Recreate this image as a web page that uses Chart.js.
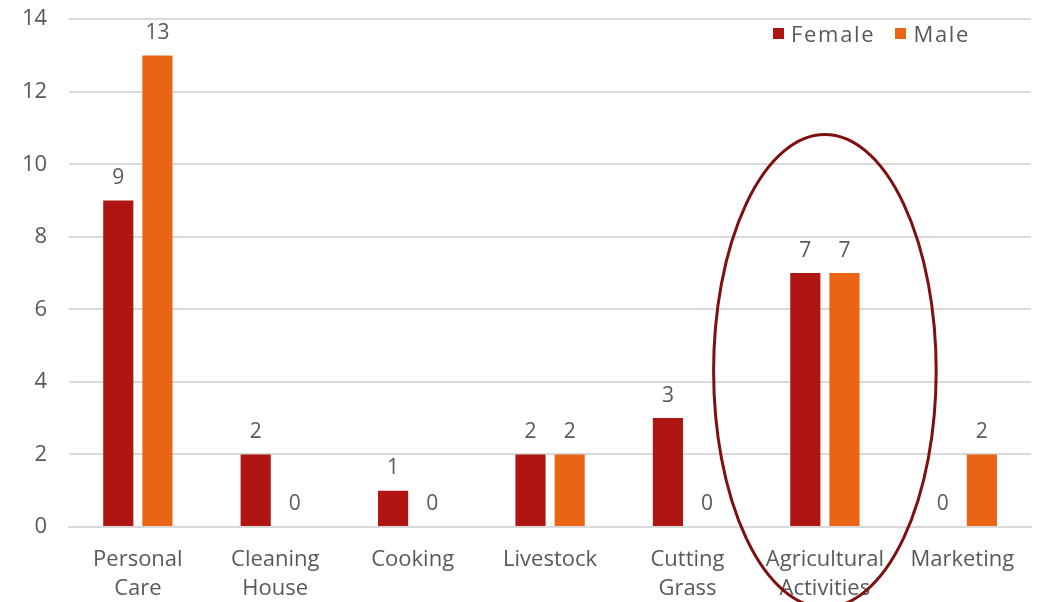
<!DOCTYPE html>
<html>
<head>
<meta charset="utf-8">
<script src="https://cdn.jsdelivr.net/npm/chart.js@4"></script>
<style>
    html, body { margin: 0; padding: 0; background: #fff; }
    #wrap { position: relative; width: 1041px; height: 602px; overflow: hidden; }
    #chart { position: absolute; left: 0; top: -16px; }
    #legend {
        position: absolute; left: 773px; top: 18px;
        font-family: 'Open Sans', sans-serif; font-size: 22px; color: #595959;
        letter-spacing: 1.7px;
        display: flex; align-items: center;
    }
    #legend span.box { display: inline-block; width: 11px; height: 11px; margin-right: 7px; }
    #legend span.item { display: flex; align-items: center; margin-right: 20px; }
</style>
</head>
<body>
<div id="wrap">
    <canvas id="chart" width="1041" height="629"></canvas>
    <div id="legend"></div>
</div>
<script>
// Chart data
const categories = [['Personal', 'Care'], ['Cleaning', 'House'], 'Cooking', 'Livestock', ['Cutting', 'Grass'], ['Agricultural', 'Activities'], 'Marketing'];
const female = [9, 2, 1, 2, 3, 7, 0];
const male = [13, 0, 0, 2, 0, 7, 2];
const yTicks = [0, 2, 4, 6, 8, 10, 12, 14];

const FEMALE_COLOR = '#AF1513';
const MALE_COLOR = '#E96414';
const TEXT_COLOR = '#595959';
const FONT = "'Open Sans', sans-serif";

// Legend (sits inside the plot area, as in the original)
const legendEl = document.getElementById('legend');
[['Female', FEMALE_COLOR], ['Male', MALE_COLOR]].forEach(([name, color]) => {
    const item = document.createElement('span');
    item.className = 'item';
    item.innerHTML = '<span class="box" style="background:' + color + '"></span>' + name;
    legendEl.appendChild(item);
});

// Value labels above bars
const valueLabels = {
    id: 'valueLabels',
    afterDatasetsDraw(chart) {
        const ctx = chart.ctx;
        ctx.save();
        ctx.font = '21px ' + FONT;
        ctx.fillStyle = TEXT_COLOR;
        ctx.textAlign = 'center';
        ctx.textBaseline = 'bottom';
        chart.data.datasets.forEach((ds, i) => {
            chart.getDatasetMeta(i).data.forEach((bar, j) => {
                ctx.fillText(ds.data[j], bar.x, bar.y - 12);
            });
        });
        ctx.restore();
    }
};

// Ellipse highlighting the Agricultural Activities group
const highlight = {
    id: 'highlight',
    afterDraw(chart) {
        const x = chart.scales.x;
        const y = chart.scales.y;
        const cx = x.getPixelForValue(5);
        const cy = y.getPixelForValue(4.3);
        const rx = (x.getPixelForValue(1) - x.getPixelForValue(0)) * 0.81;
        const ry = y.getPixelForValue(0) - y.getPixelForValue(6.52);
        const ctx = chart.ctx;
        ctx.save();
        ctx.strokeStyle = '#7E1010';
        ctx.lineWidth = 3;
        ctx.beginPath();
        ctx.ellipse(cx, cy, rx, ry, 0, 0, Math.PI * 2);
        ctx.stroke();
        ctx.restore();
    }
};

new Chart(document.getElementById('chart'), {
    type: 'bar',
    data: {
        labels: categories,
        datasets: [
            { label: 'Female', data: female, backgroundColor: FEMALE_COLOR },
            { label: 'Male', data: male, backgroundColor: MALE_COLOR }
        ]
    },
    options: {
        responsive: false,
        animation: false,
        categoryPercentage: 0.57,
        barPercentage: 0.77,
        layout: { padding: { left: 0, right: 10, top: 0, bottom: 0 } },
        plugins: {
            legend: { display: false },
            tooltip: { enabled: false }
        },
        scales: {
            x: {
                grid: { display: false },
                border: { color: '#D9D9D9', width: 2 },
                ticks: {
                    color: TEXT_COLOR,
                    font: { family: FONT, size: 22, lineHeight: 1.32 },
                    maxRotation: 0,
                    autoSkip: false,
                    padding: 10
                }
            },
            y: {
                min: 0,
                max: 14,
                afterBuildTicks(axis) {
                    axis.ticks = yTicks.map(v => ({ value: v }));
                },
                grid: { color: '#D9D9D9', lineWidth: 2, drawTicks: false },
                border: { display: false },
                ticks: {
                    color: TEXT_COLOR,
                    font: { family: FONT, size: 22 },
                    padding: 22
                }
            }
        }
    },
    plugins: [valueLabels, highlight]
});
</script>
</body>
</html>
